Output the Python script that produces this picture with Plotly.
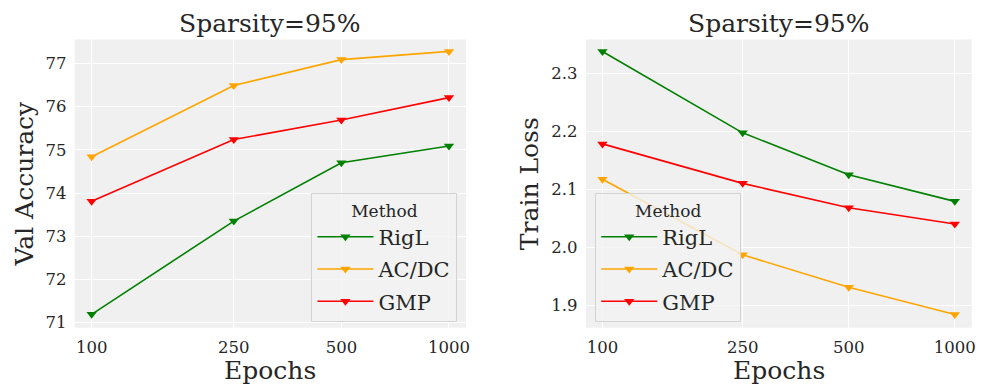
import plotly.graph_objects as go

epochs = [100, 250, 500, 1000]
methods = ["RigL", "AC/DC", "GMP"]
colors = {"RigL": "#008000", "AC/DC": "#FFA500", "GMP": "#FF0000"}

val_acc = {
    "RigL": [71.19, 73.35, 74.70, 75.09],
    "AC/DC": [74.84, 76.49, 77.09, 77.28],
    "GMP": [73.81, 75.24, 75.69, 76.21],
}
train_loss = {
    "RigL": [2.337, 2.197, 2.125, 2.079],
    "AC/DC": [2.117, 1.987, 1.931, 1.884],
    "GMP": [2.178, 2.110, 2.068, 2.040],
}

FONT = "DejaVu Serif"
TXT = "#262626"
W, H = 981, 388

fig = go.Figure()
for m in methods:
    fig.add_trace(go.Scatter(
        x=epochs, y=val_acc[m], mode="lines+markers", name=m,
        line=dict(color=colors[m], width=1.6),
        marker=dict(symbol="triangle-down", size=9, color=colors[m]),
        xaxis="x", yaxis="y", legend="legend", legendgroup="a" + m))
for m in methods:
    fig.add_trace(go.Scatter(
        x=epochs, y=train_loss[m], mode="lines+markers", name=m,
        line=dict(color=colors[m], width=1.6),
        marker=dict(symbol="triangle-down", size=9, color=colors[m]),
        xaxis="x2", yaxis="y2", legend="legend2", legendgroup="b" + m))

def px_x(p):
    return p / W

def px_y(p):
    return 1 - p / H

ydom = [px_y(332), px_y(40)]
axis_common = dict(
    showgrid=True, gridcolor="white", gridwidth=1.2, zeroline=False,
    showline=False, ticks="outside", ticklen=4, tickcolor="rgba(0,0,0,0)",
    tickfont=dict(family=FONT, size=16.5, color=TXT),
)
xaxis_common = dict(axis_common, type="log", tickvals=epochs,
                    ticktext=[str(e) for e in epochs])

legend_common = dict(
    bgcolor="rgba(242,242,242,0.8)", bordercolor="#d3d3d3", borderwidth=1,
    font=dict(family=FONT, size=21, color=TXT),
    title=dict(text="Method", side="top center",
               font=dict(family=FONT, size=17, color=TXT)),
    xanchor="left", yanchor="top", tracegroupgap=2, itemwidth=56,
)

fig.update_layout(
    width=W, height=H,
    margin=dict(l=0, r=0, t=0, b=0),
    paper_bgcolor="white",
    plot_bgcolor="#f0f0f0",
    font=dict(family=FONT, color=TXT),
    xaxis=dict(xaxis_common, domain=[px_x(75), px_x(468)],
               range=[1.9526, 3.048], anchor="y"),
    yaxis=dict(axis_common, domain=ydom, range=[70.88, 77.556],
               tickvals=[71, 72, 73, 74, 75, 76, 77], anchor="x"),
    xaxis2=dict(xaxis_common, domain=[px_x(588.3), px_x(975.7)],
                range=[1.953, 3.048], anchor="y2"),
    yaxis2=dict(axis_common, domain=ydom, range=[1.8614, 2.3578],
                tickvals=[1.9, 2.0, 2.1, 2.2, 2.3],
                ticktext=["1.9", "2.0", "2.1", "2.2", "2.3"], anchor="x2"),
    legend=dict(legend_common, x=px_x(312.7), y=px_y(196)),
    legend2=dict(legend_common, x=px_x(597.7), y=px_y(196)),
    showlegend=True,
)

annots = [
    dict(text="Sparsity=95%", x=px_x(271.5), y=px_y(24), size=25),
    dict(text="Sparsity=95%", x=px_x(782), y=px_y(24), size=25),
    dict(text="Epochs", x=px_x(271.5), y=px_y(375), size=25),
    dict(text="Epochs", x=px_x(782), y=px_y(375), size=25),
]
for a in annots:
    fig.add_annotation(text=a["text"], x=a["x"], y=a["y"], xref="paper",
                       yref="paper", showarrow=False, xanchor="center",
                       yanchor="middle",
                       font=dict(family=FONT, size=a["size"], color=TXT))
for txt, xp in [("Val Accuracy", 25), ("Train Loss", 531.7)]:
    fig.add_annotation(text=txt, x=px_x(xp), y=px_y(186), xref="paper",
                       yref="paper", showarrow=False, textangle=-90,
                       xanchor="center", yanchor="middle",
                       font=dict(family=FONT, size=25, color=TXT))

fig.write_html("out.html")
